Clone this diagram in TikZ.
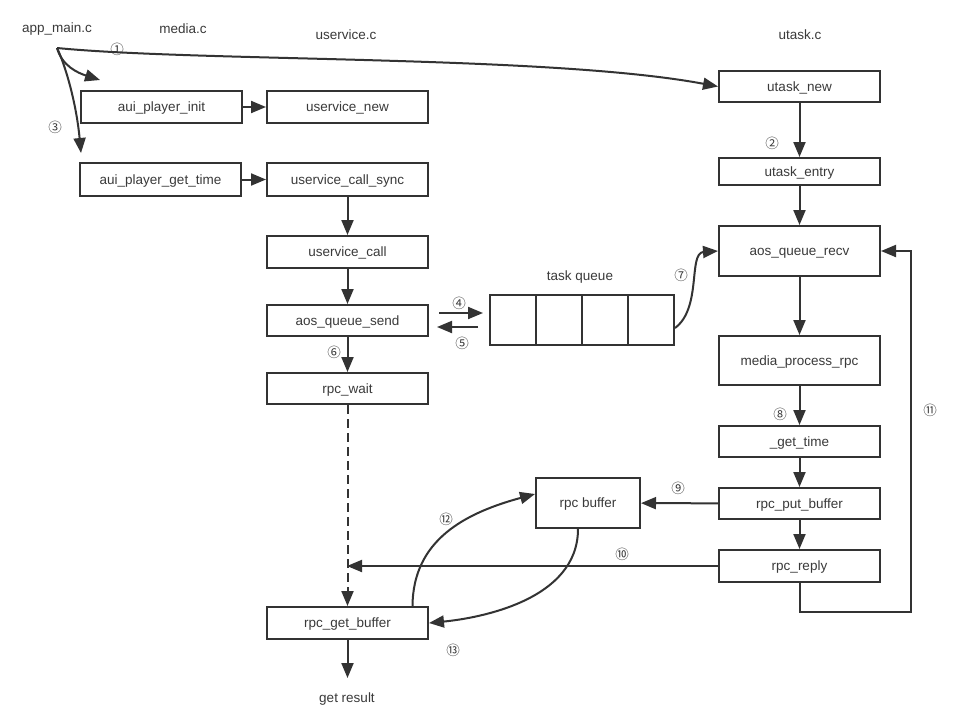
\documentclass[tikz,border=0pt]{standalone}
\usepackage{fontspec}
\setmainfont{Liberation Sans}
\newfontfamily\cjk{Noto Sans CJK SC}
\usetikzlibrary{arrows.meta}
\definecolor{ln}{HTML}{333333}
\definecolor{tx}{HTML}{3A3A3A}
\begin{document}
\begin{tikzpicture}[x=1pt,y=-1pt,
  every node/.style={text=tx,font=\fontsize{13.5}{15}\selectfont},
  fbox/.style={draw=ln,line width=2pt,minimum width=161pt,minimum height=32pt,inner sep=0pt,text height=10pt,text depth=1pt},
  conn/.style={draw=ln,line width=2pt,-{Triangle[length=15pt,width=12pt]}},
  plain/.style={draw=ln,line width=2pt},
  num/.style={font=\cjk\fontsize{13.5}{14}\selectfont,text=tx,inner sep=0pt}]
\path[use as bounding box,fill=white] (0,0) rectangle (954,710);

% titles
\node (tapp) at (57,29) {app\_main.c};
\node (tmed) at (183,29) {media.c};
\node (tusv) at (346,35) {uservice.c};
\node (tutk) at (800,35) {utask.c};
\coordinate (src) at (57,48);

% left boxes
\node[fbox] (init) at (161.5,107) {aui\_player\_init};
\node[fbox] (unew) at (347.5,107) {uservice\_new};
\node[fbox,minimum height=33pt] (gtime) at (160.5,179.5) {aui\_player\_get\_time};
\node[fbox,minimum height=33pt] (csync) at (347.5,179.5) {uservice\_call\_sync};
\node[fbox] (ucall) at (347.5,252) {uservice\_call};
\node[fbox,minimum height=31pt] (qsend) at (347.5,320.5) {aos\_queue\_send};
\node[fbox,minimum height=31pt] (rwait) at (347.5,388.5) {rpc\_wait};
\node[fbox] (gbuf) at (347.5,623) {rpc\_get\_buffer};
\node (res) at (347,699) {get result};

% right boxes
\node[fbox,minimum height=31pt] (tnew) at (799.5,86.5) {utask\_new};
\node[fbox,minimum height=27pt] (tent) at (799.5,171.5) {utask\_entry};
\node[fbox,minimum height=50pt] (qrecv) at (799.5,251) {aos\_queue\_recv};
\node[fbox,minimum height=49pt] (mproc) at (799.5,360.5) {media\_process\_rpc};
\node[fbox,minimum height=31pt] (gt) at (799.5,441.5) {\_get\_time};
\node[fbox,minimum height=31pt] (pbuf) at (799.5,503.5) {rpc\_put\_buffer};
\node[fbox] (reply) at (799.5,566) {rpc\_reply};
\node[fbox,minimum width=104pt,minimum height=50pt] (rbuf) at (588,503) {rpc buffer};

% task queue
\node (tql) at (580,277) {task queue};
\node[fbox,minimum width=46pt,minimum height=50pt] (q1) at (513,320) {};
\node[fbox,minimum width=46pt,minimum height=50pt] (q2) at (559,320) {};
\node[fbox,minimum width=46pt,minimum height=50pt] (q3) at (605,320) {};
\node[fbox,minimum width=46pt,minimum height=50pt] (q4) at (651,320) {};

% app_main arrows
\draw[conn] (src) .. controls (200,62) and (550,55) .. (tnew.west);
\coordinate (e2) at (100,80);
\draw[conn] (src) .. controls (62,66) and (78,73) .. (e2);
\coordinate (e3) at (81,153);
\draw[conn] (src) .. controls (64,62) and (76,100) .. (e3);
\node[num] (n1) at (117,49) {①};
\node[num] (n3) at (55,127) {③};

% left chain
\draw[conn] (init) -- (unew);
\draw[conn] (gtime) -- (csync);
\draw[conn] (csync) -- (ucall);
\draw[conn] (ucall) -- (qsend);
\draw[conn] (qsend) -- (rwait);
\node[num] (n6) at (334,352) {⑥};
\draw[conn,dash pattern=on 9pt off 5pt] (rwait.south) -- (gbuf.north);
\draw[conn] (gbuf) -- ([yshift=-38pt]gbuf.south);

% queue arrows
\coordinate (a4s) at (439,313);
\coordinate (a4e) at (483,313);
\draw[conn] (a4s) -- (a4e);
\coordinate (a5s) at (478,327);
\coordinate (a5e) at (437,327);
\draw[conn] (a5s) -- (a5e);
\node[num] (n4) at (459,303) {④};
\node[num] (n5) at (462,343) {⑤};
\draw[conn] ([yshift=-8pt]q4.east) .. controls (702,308) and (688,253) .. (qrecv.west);
\node[num] (n7) at (681,275) {⑦};

% right chain
\draw[conn] (tnew) -- (tent);
\node[num] (n2) at (772,143) {②};
\draw[conn] (tent) -- (qrecv);
\draw[conn] (qrecv) -- (mproc);
\draw[conn] (mproc) -- (gt);
\node[num] (n8) at (780,414) {⑧};
\draw[conn] (gt) -- (pbuf);
\draw[conn] (pbuf) -- (reply);
\draw[conn] (pbuf) -- (rbuf);
\node[num] (n9) at (678,488) {⑨};
\coordinate (r10) at (347,566);
\draw[conn] (reply.west) -- (r10);
\node[num] (n10) at (622,554) {⑩};
\draw[conn] (reply.south) -- ++(0,29) -| ([xshift=30pt]qrecv.east) -- (qrecv.east);
\node[num] (n11) at (930,410) {⑪};

% rpc buffer curves
\draw[conn] ([xshift=65pt]gbuf.north) .. controls (413,540) and (465,513) .. ([yshift=9pt]rbuf.west);
\node[num] (n12) at (446,519) {⑫};
\draw[conn] ([xshift=-10pt]rbuf.south) .. controls (578,600) and (480,618) .. (gbuf.east);
\node[num] (n13) at (453,650) {⑬};
\end{tikzpicture}
\end{document}
